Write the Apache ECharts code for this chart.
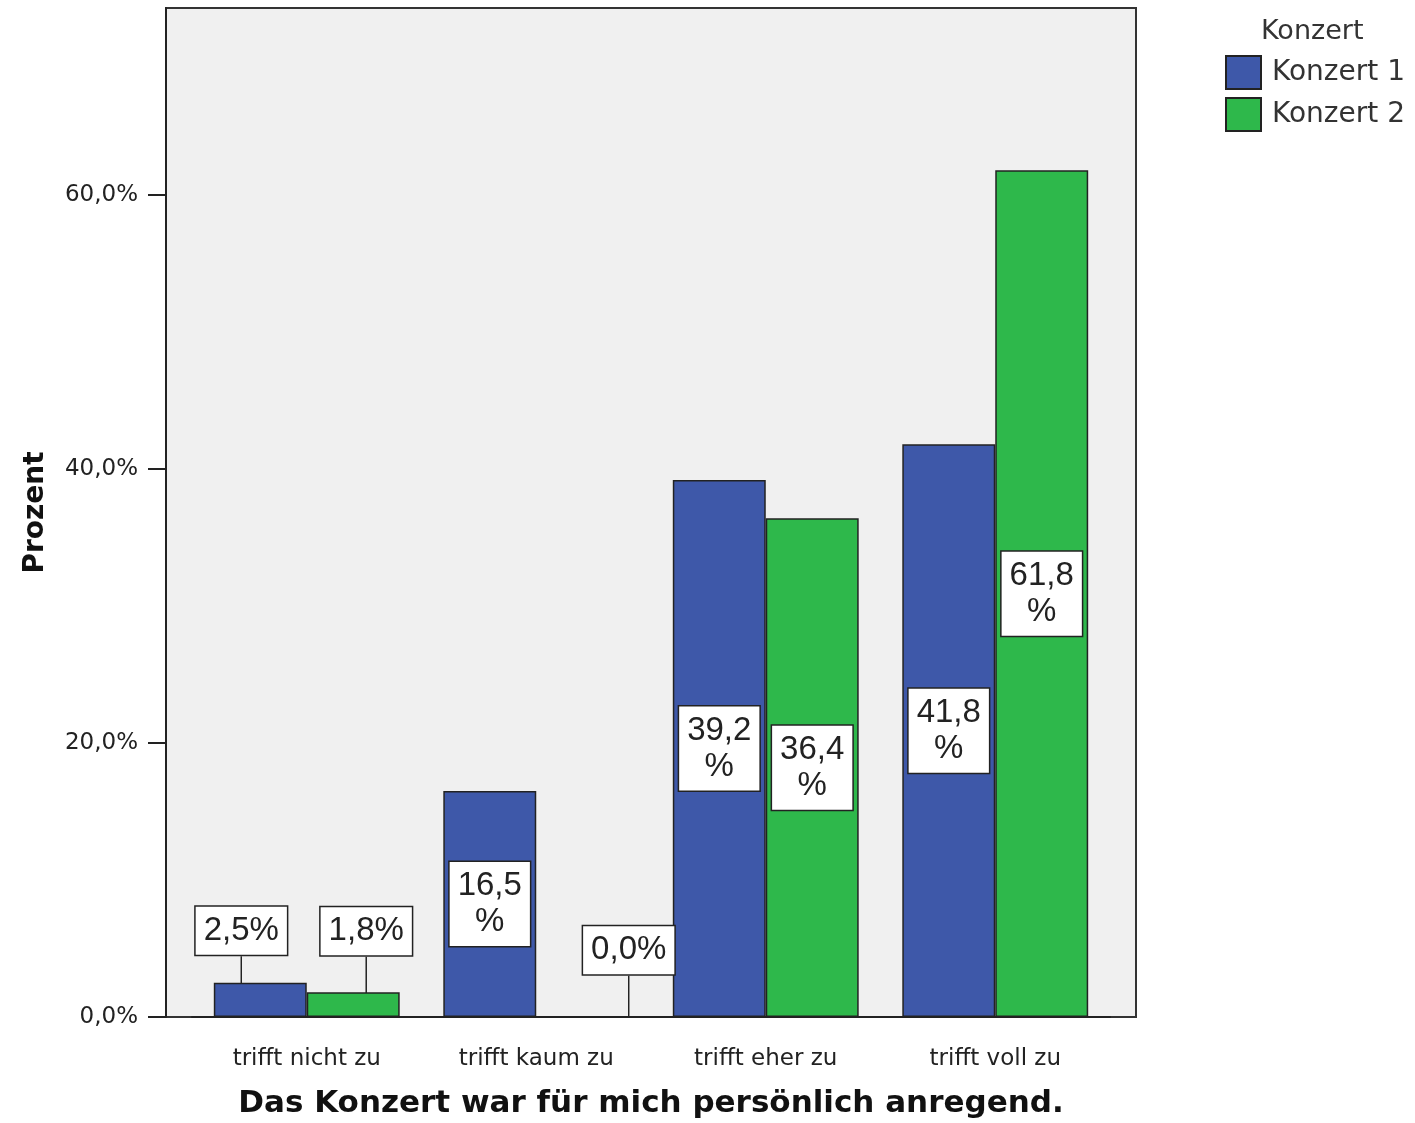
<!DOCTYPE html>
<html>
<head>
<meta charset="utf-8">
<script src="https://cdn.jsdelivr.net/npm/echarts@6/dist/echarts.min.js"></script>
<style>
html,body{margin:0;padding:0;background:#fff;}
#chart{width:1415px;height:1123px;}
</style>
</head>
<body>
<div id="chart"></div>
<script>
const categories = ['trifft nicht zu', 'trifft kaum zu', 'trifft eher zu', 'trifft voll zu'];
const seriesNames = ['Konzert 1', 'Konzert 2'];
const konzert1 = [2.5, 16.5, 39.2, 41.8];
const konzert2 = [1.8, 0.0, 36.4, 61.8];
const yTicks = [0, 20, 40, 60];
const legendTitle = 'Konzert';
const xTitle = 'Das Konzert war für mich persönlich anregend.';
const yTitle = 'Prozent';

// label shifts for small bars (leader-line labels)
const shifts1 = {0: {dx: -19, dy: -23}};
const shifts2 = {0: {dx: 13, dy: -32}, 1: {dx: 46, dy: -37}};

const colors = ['#3e58a9', '#2eb84b'];
const fmtNum = v => v.toFixed(1).replace('.', ',');
const labelFmt = p => (p.value >= 10 ? fmtNum(p.value) + '\n%' : fmtNum(p.value) + '%');

function makeData(vals) {
  return vals.map(v => v >= 10 ? {value: v} : {value: v, label: {position: 'top', distance: 5}});
}

const labelStyle = {
  show: true,
  position: 'inside',
  formatter: labelFmt,
  fontFamily: 'Liberation Sans, Arial, sans-serif',
  fontSize: 33,
  lineHeight: 36,
  color: '#222',
  backgroundColor: '#fff',
  borderColor: '#222',
  borderWidth: 1.5,
  padding: [6, 8]
};

const chart = echarts.init(document.getElementById('chart'), null, {renderer: 'canvas'});
chart.setOption({
  animation: false,
  backgroundColor: '#fff',
  graphic: [{
    type: 'rect',
    z: -10,
    shape: {x: 166, y: 8, width: 970, height: 1009},
    style: {fill: '#f0f0f0', stroke: '#333', lineWidth: 2}
  }],
  title: {
    text: legendTitle,
    left: 1256, top: 13,
    textStyle: {fontFamily: 'DejaVu Sans', fontSize: 27, fontWeight: 'normal', color: '#333'}
  },
  legend: {
    orient: 'vertical',
    left: 1225, top: 55,
    padding: 0,
    itemWidth: 35, itemHeight: 33, itemGap: 7,
    icon: 'rect',
    data: seriesNames,
    itemStyle: {borderColor: '#222', borderWidth: 2},
    textStyle: {fontFamily: 'DejaVu Sans', fontSize: 28, color: '#333', padding: [0, 0, 0, 6]}
  },
  grid: {left: 192, right: 305, top: 8, bottom: 106, containLabel: false, outerBoundsMode: 'none'},
  xAxis: {
    type: 'category',
    data: categories,
    name: xTitle,
    nameLocation: 'middle',
    nameGap: 71,
    nameTextStyle: {fontFamily: 'DejaVu Sans', fontWeight: 'bold', fontSize: 31, color: '#111'},
    axisLine: {lineStyle: {color: '#222', width: 2}},
    axisTick: {alignWithLabel: true, length: 13, lineStyle: {color: '#222', width: 2}},
    axisLabel: {fontFamily: 'DejaVu Sans', fontSize: 23, color: '#222', margin: 31}
  },
  yAxis: {
    type: 'value',
    min: 0, max: 73.65, interval: 20,
    offset: 26,
    name: yTitle,
    nameLocation: 'middle',
    nameGap: 116,
    nameRotate: 90,
    nameTextStyle: {fontFamily: 'DejaVu Sans', fontWeight: 'bold', fontSize: 28, color: '#111'},
    axisLine: {show: true, lineStyle: {color: '#222', width: 2}},
    axisTick: {show: true, length: 18, lineStyle: {color: '#222', width: 2}},
    splitLine: {show: false},
    axisLabel: {
      showMaxLabel: false,
      fontFamily: 'DejaVu Sans', fontSize: 23, color: '#222', margin: 28,
      formatter: v => yTicks.includes(v) ? fmtNum(v) + '%' : ''
    }
  },
  series: [
    {
      name: seriesNames[0], type: 'bar', z: 2,
      data: makeData(konzert1),
      barGap: '0%', barCategoryGap: '19%',
      itemStyle: {color: colors[0], borderColor: '#222', borderWidth: 1.5},
      label: labelStyle,
      labelLine: {show: true, lineStyle: {color: '#222', width: 1.5}},
      labelLayout: p => shifts1[p.dataIndex] || {}
    },
    {
      name: seriesNames[1], type: 'bar', z: 2,
      data: makeData(konzert2),
      barGap: '0%', barCategoryGap: '19%',
      itemStyle: {color: colors[1], borderColor: '#222', borderWidth: 1.5},
      label: labelStyle,
      labelLine: {show: true, lineStyle: {color: '#222', width: 1.5}},
      labelLayout: p => shifts2[p.dataIndex] || {}
    }
  ]
});
</script>
</body>
</html>
